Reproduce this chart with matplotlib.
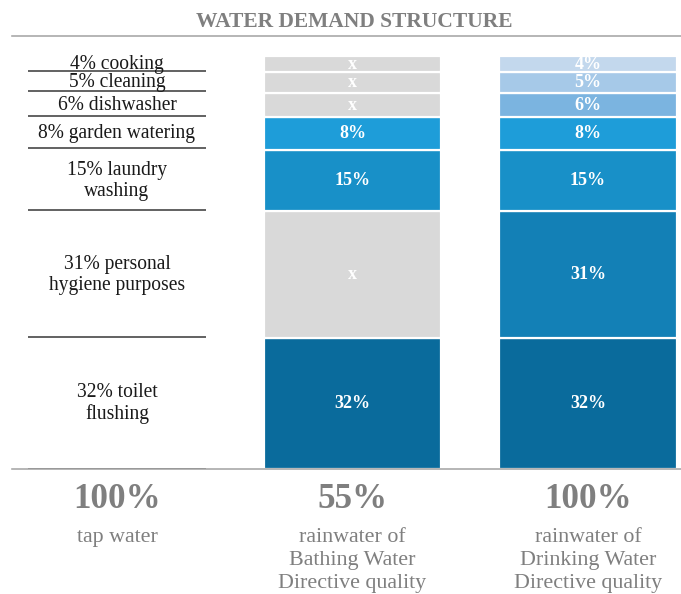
import matplotlib
matplotlib.use("Agg")
import matplotlib.pyplot as plt
from matplotlib.lines import Line2D
import numpy as np

plt.rcParams["font.family"] = ["Liberation Serif", "DejaVu Serif"]

# Household water demand, stacked from the bottom up
uses = ["toilet flushing", "personal hygiene purposes", "laundry washing",
        "garden watering", "dishwasher", "cleaning", "cooking"]
use_labels = ["32% toilet\nflushing", "31% personal\nhygiene purposes",
              "15% laundry\nwashing", "8% garden watering", "6% dishwasher",
              "5% cleaning", "4% cooking"]
shares = [32, 31, 15, 8, 6, 5, 4]

# Which uses each rainwater quality can cover
bathing_quality = [True, False, True, True, False, False, False]
drinking_quality = [True, True, True, True, True, True, True]

use_colors = ["#0a6b9c", "#1380b6", "#1890c8", "#1e9dd9",
              "#7bb4e0", "#a6c9e8", "#c3d8ed"]
excluded_color = "#d9d9d9"

totals = ["100%", "55%", "100%"]
supply_labels = ["tap water",
                 "rainwater of\nBathing Water\nDirective quality",
                 "rainwater of\nDrinking Water\nDirective quality"]

W, H = 681, 594
fig = plt.figure(figsize=(W / 72, H / 72), dpi=72)
fig.patch.set_facecolor("white")

base_px, top_px = 469, 56
ax = fig.add_axes([0, (H - base_px) / H, 1, (base_px - top_px) / H])
ax.set_ylim(0, sum(shares))
col_step = 235.5
ax.set_xlim(-117 / col_step, (W - 117) / col_step)
ax.axis("off")

bottoms = np.concatenate([[0], np.cumsum(shares)[:-1]])
tops = np.cumsum(shares)
bar_w = 0.755

# Column 0: list of uses separated by rules
ax.hlines(np.concatenate([[0], tops + 0.4]), -bar_w / 2, bar_w / 2,
          color="#3f3f3f", lw=1.6, zorder=3)
for lab, b, s in zip(use_labels, bottoms, shares):
    ax.text(0, b + s / 2, lab, ha="center", va="center", fontsize=19.5,
            color="#1a1a1a", linespacing=1.12)

# Columns 1 and 2: stacked bars
for col, covered in [(1, bathing_quality), (2, drinking_quality)]:
    for s, b, c, ok in zip(shares, bottoms, use_colors, covered):
        ax.bar(col, s, bottom=b, width=bar_w, color=c if ok else excluded_color,
               edgecolor="white", linewidth=2.2, zorder=2)
        ax.text(col, b + s / 2, f"{s}%" if ok else "x", ha="center",
                va="center", fontsize=18, fontweight="bold", color="white",
                zorder=4)

# Title and rules
fig.text(354 / W, 1 - 22 / H, "WATER DEMAND STRUCTURE", ha="center",
         va="center", fontsize=21.5, fontweight="bold", color="#7f7f7f")
fig.add_artist(Line2D([12 / W, 1], [1 - 36 / H] * 2, color="#a6a6a6",
                      lw=1.6, transform=fig.transFigure))
fig.add_artist(Line2D([12 / W, 1], [1 - 469 / H] * 2, color="#a6a6a6",
                      lw=1.6, transform=fig.transFigure, zorder=1))

# Totals under each column
for col, (tot, lab) in enumerate(zip(totals, supply_labels)):
    ax.annotate(tot, xy=(col, 0), xytext=(0, -30), textcoords="offset points",
                ha="center", va="center", fontsize=35, fontweight="bold",
                color="#7f7f7f", annotation_clip=False)
    ax.annotate(lab, xy=(col, 0), xytext=(0, -59), textcoords="offset points",
                ha="center", va="top", fontsize=22, color="#7f7f7f",
                linespacing=1.3, annotation_clip=False)

fig.savefig("out.png", dpi=72, facecolor="white")
